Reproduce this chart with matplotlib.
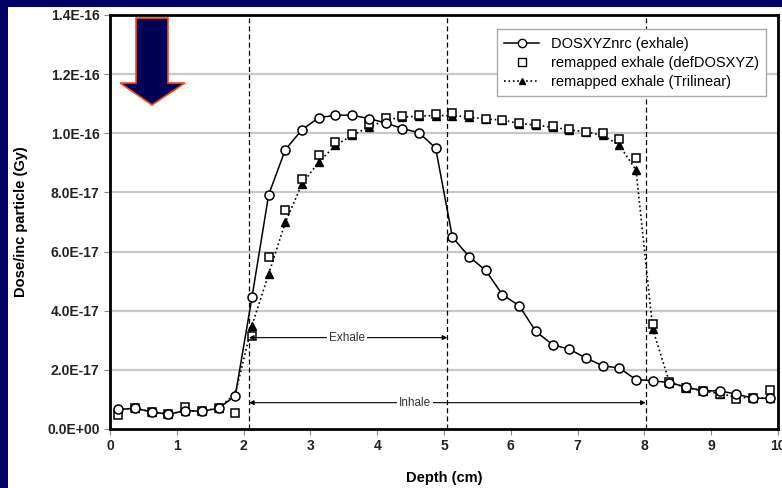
import numpy as np
import matplotlib
matplotlib.use("Agg")
from matplotlib import pyplot as plt
from matplotlib.patches import Rectangle, Polygon
from matplotlib.lines import Line2D

plt.rcParams['font.family'] = ['Liberation Sans', 'DejaVu Sans']

# depth of each sample (cm)
depth = [0.125 + 0.25 * k for k in range(40)]

# dose per incident particle, in units of 1E-17 Gy
dosxyz_exhale = [0.66, 0.70, 0.58, 0.50, 0.62, 0.60, 0.70, 1.12,
                 4.45, 7.92, 9.45, 10.12, 10.53, 10.61, 10.61, 10.50,
                 10.35, 10.16, 10.02, 9.50, 6.49, 5.83, 5.36, 4.54,
                 4.17, 3.30, 2.85, 2.70, 2.40, 2.14, 2.06, 1.67,
                 1.63, 1.57, 1.42, 1.29, 1.29, 1.18, 1.04, 1.04]
remap_def = [0.48, 0.72, 0.58, 0.50, 0.76, 0.62, 0.72, 0.55,
             3.15, 5.81, 7.39, 8.46, 9.25, 9.71, 9.99, 10.33,
             10.53, 10.58, 10.61, 10.64, 10.67, 10.61, 10.50, 10.46,
             10.36, 10.33, 10.25, 10.16, 10.05, 10.01, 9.82, 9.16,
             3.55, 1.59, 1.38, 1.29, 1.18, 1.00, 1.04, 1.31]
remap_tri = [0.66, 0.70, 0.58, 0.50, 0.62, 0.60, 0.72, 1.18,
             3.50, 5.24, 6.99, 8.29, 9.03, 9.59, 9.93, 10.21,
             10.44, 10.55, 10.58, 10.60, 10.60, 10.55, 10.48, 10.45,
             10.33, 10.28, 10.20, 10.12, 10.05, 9.93, 9.60, 8.75,
             3.38, 1.57, 1.40, 1.29, 1.20, 1.08, 1.04, 1.04]

boundaries = [2.08, 5.05, 8.02]
ytick_vals = [0, 2, 4, 6, 8, 10, 12, 14]
ytick_labels = ["0.0E+00", "2.0E-17", "4.0E-17", "6.0E-17", "8.0E-17",
                "1.0E-16", "1.2E-16", "1.4E-16"]

W, H = 782, 488
fig = plt.figure(figsize=(W / 100, H / 100), dpi=100, facecolor='white')
# navy slide border on the left and top
fig.patches.append(Rectangle((0, 0), 8 / W, 1, transform=fig.transFigure,
                             facecolor='#000066', edgecolor='none'))
fig.patches.append(Rectangle((0, 1 - 7 / H), 1, 7 / H, transform=fig.transFigure,
                             facecolor='#000066', edgecolor='none'))

ax = fig.add_axes([110 / W, 1 - 429 / H, (778 - 110) / W, (429 - 15) / H])
ax.set_xlim(0, 10)
ax.set_ylim(0, 14)

for yv in ytick_vals[1:-1]:
    ax.axhline(yv, color='#c8c8c8', lw=1.6, zorder=1)
for b in boundaries:
    ax.axvline(b, color='black', lw=0.9, ls=(0, (4, 2.5)), zorder=2)

ax.plot(depth, remap_tri, color='black', ls=':', lw=1.2, marker='^', ms=5.5,
        mfc='black', mec='black', zorder=3)
ax.plot(depth, remap_def, ls='none', marker='s', ms=5.8, mfc='white', mec='black',
        mew=1.1, zorder=4)
ax.plot(depth, dosxyz_exhale, color='black', ls='-', lw=1.1, marker='o', ms=6.5,
        mfc='white', mec='black', mew=1.1, zorder=5)

# phase annotations
ax.annotate('', xy=(boundaries[0], 3.09), xytext=(boundaries[1], 3.09),
            arrowprops=dict(arrowstyle='<|-|>', color='black', lw=0.8,
                            mutation_scale=7, shrinkA=0, shrinkB=0), zorder=6)
ax.text(3.55, 3.09, 'Exhale', ha='center', va='center', fontsize=8.5, color='#333333',
        bbox=dict(facecolor='white', edgecolor='none', pad=1.5), zorder=7)
ax.annotate('', xy=(boundaries[0], 0.89), xytext=(boundaries[2], 0.89),
            arrowprops=dict(arrowstyle='<|-|>', color='black', lw=0.8,
                            mutation_scale=7, shrinkA=0, shrinkB=0), zorder=6)
ax.text(4.57, 0.89, 'Inhale', ha='center', va='center', fontsize=8.5, color='#333333',
        bbox=dict(facecolor='white', edgecolor='none', pad=1.5), zorder=7)

ax.set_xticks(range(11))
ax.set_yticks(ytick_vals)
ax.set_yticklabels(ytick_labels)
ax.tick_params(axis='both', labelsize=10, length=4, width=0.8, color='#888888')
for lab in ax.get_xticklabels() + ax.get_yticklabels():
    lab.set_fontweight('bold')
    lab.set_color('#222222')
for sp in ax.spines.values():
    sp.set_linewidth(2)
ax.set_xlabel('Depth (cm)', fontsize=10.5, fontweight='bold', labelpad=13)
ax.set_ylabel('Dose/inc particle (Gy)', fontsize=10.5, fontweight='bold', labelpad=14)

handles = [
    Line2D([], [], color='black', ls='-', lw=1.1, marker='o', ms=6, mfc='white', mec='black'),
    Line2D([], [], ls='none', marker='s', ms=5.5, mfc='white', mec='black'),
    Line2D([], [], color='black', ls=':', lw=1.2, marker='^', ms=5, mfc='black', mec='black'),
]
leg = ax.legend(handles, ['DOSXYZnrc (exhale)', 'remapped exhale (defDOSXYZ)',
                          'remapped exhale (Trilinear)'],
                loc='upper right', bbox_to_anchor=(0.993, 0.983), fontsize=10.5,
                fancybox=False, framealpha=1, edgecolor='#aaaaaa',
                handlelength=2.4, labelspacing=0.35, borderpad=0.5)
leg.set_zorder(10)

# decorative arrow in the top-left corner
pts = [(136, 18), (168, 18), (168, 83), (185, 83), (152, 105), (120, 83), (136, 83)]
fig.patches.append(Polygon([(x / W, 1 - y / H) for x, y in pts], closed=True,
                           transform=fig.transFigure, facecolor='#000055',
                           edgecolor='#ff4a1a', lw=1.2, zorder=20))

fig.savefig('out.png', dpi=100)
